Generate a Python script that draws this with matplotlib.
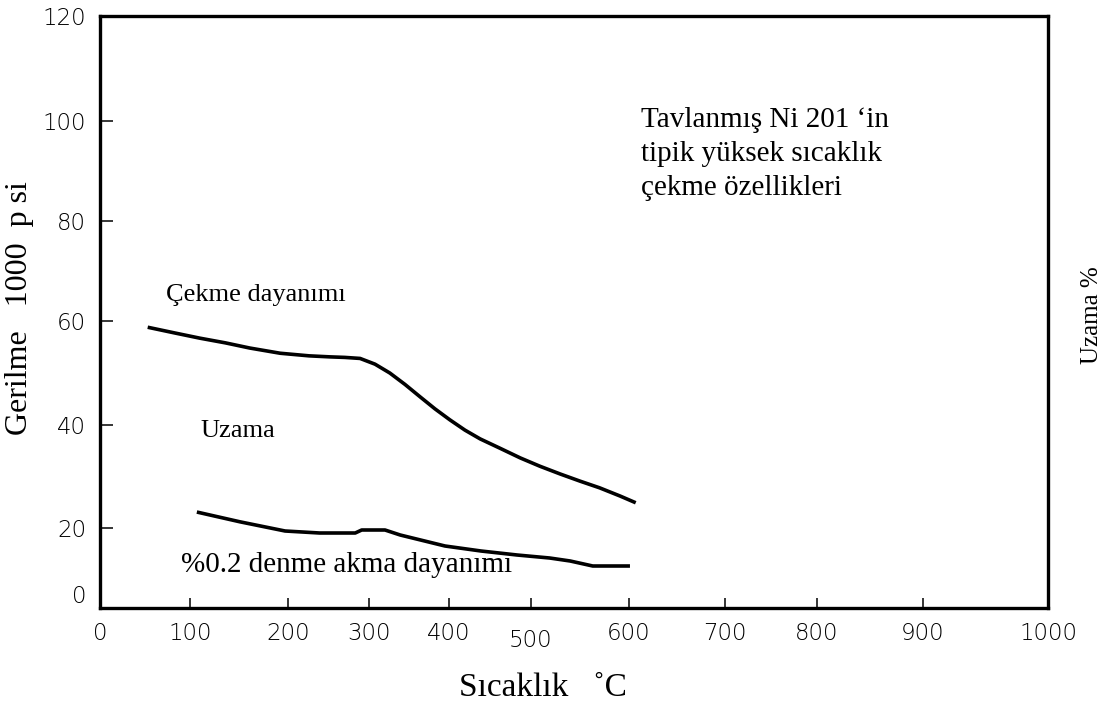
import numpy as np
import matplotlib.pyplot as plt

# Tavlanmış Ni 201 - yüksek sıcaklık çekme özellikleri
temp_ticks = [0, 100, 200, 300, 400, 500, 600, 700, 800, 900, 1000]
stress_ticks = [0, 20, 40, 60, 80, 100, 120]

# çekme dayanımı (1000 psi)
tensile_t = [53, 83, 110, 136, 161, 192, 226, 252, 270, 289, 307.5, 326, 345,
             364, 382.5, 401, 419.5, 438, 462, 487, 509, 529.6, 550, 570, 591, 607]
tensile_s = [58.8, 57.7, 56.7, 55.8, 54.8, 53.8, 53.3, 53.1, 53.0, 52.8, 51.7,
             50.0, 47.8, 45.4, 43.1, 41.0, 39.0, 37.3, 35.5, 33.6, 32.0, 30.5,
             29.1, 27.8, 26.2, 24.9]

# %0.2 akma dayanımı (1000 psi)
yield_t = [107, 151, 197, 239, 283, 291, 320, 339, 395, 439, 483, 519, 540, 563, 601]
yield_s = [23.1, 21.2, 19.25, 18.75, 18.75, 19.5, 19.5, 18.25, 15.5, 14.25, 13.25,
           12.5, 11.75, 10.5, 10.5]

# the printed axes are hand drawn: tick spacing is not uniform,
# so values go through a piecewise-linear scale built on the tick marks
x_marks = [100, 190, 288, 369, 449, 531, 629, 725, 817, 923, 1048]
y_marks = [0, 80, 183, 287, 387, 487, 592]


def piecewise(src, dst):
    src = np.asarray(src, float)
    dst = np.asarray(dst, float)

    def fwd(v):
        return np.interp(v, src, dst)

    def inv(v):
        return np.interp(v, dst, src)

    return fwd, inv


W, H = 1106, 709
fig = plt.figure(figsize=(W / 100, H / 100), dpi=100)
ax = fig.add_axes([100 / W, 1 - 608 / H, 948 / W, 592 / H])

ax.set_xscale("function", functions=piecewise(temp_ticks, x_marks))
ax.set_yscale("function", functions=piecewise(stress_ticks, y_marks))
ax.set_xlim(0, 1000)
ax.set_ylim(0, 120)
ax.set_xticks(temp_ticks)
ax.set_yticks(stress_ticks)
ax.set_xticklabels([str(t) for t in temp_ticks])
ax.set_yticklabels([str(s) for s in stress_ticks])
ax.minorticks_off()

for sp in ax.spines.values():
    sp.set_linewidth(2.4)
ax.tick_params(axis="both", direction="in", width=1.1, colors="black",
               labelsize=16.5)
ax.tick_params(axis="y", length=9.5, pad=10)
ax.tick_params(axis="x", length=7.5, pad=10)
for lab in ax.get_xticklabels() + ax.get_yticklabels():
    lab.set_fontfamily("DejaVu Sans")
    lab.set_fontweight("light")

# "0" sits just above the corner, "500" a little lower than the rest
ax.get_yticklabels()[0].set_verticalalignment("bottom")
ticks = ax.xaxis.get_major_ticks()
ticks[5].set_pad(15)

ax.plot(tensile_t, tensile_s, color="black", lw=2.6, solid_capstyle="butt")
ax.plot(yield_t, yield_s, color="black", lw=2.6, solid_capstyle="butt")

serif = "Liberation Serif"


def put(x, y, s, size=19, **kw):
    fig.text(x / W, 1 - y / H, s, fontsize=size, family=serif,
             va="baseline", **kw)


put(641, 127, "Tavlanmış Ni 201 ‘in", size=21)
put(641, 161, "tipik yüksek sıcaklık", size=21)
put(641, 195, "çekme özellikleri", size=21)
put(166, 301, "Çekme dayanımı")
put(200, 437, "Uzama")
put(181, 572, "%0.2 denme akma dayanımı", size=21)

fig.text(20 / W, 1 - 308 / H, "Gerilme   1000  p si", fontsize=23, family=serif,
         rotation=90, ha="center", va="center")
fig.text(1092 / W, 1 - 315 / H, "Uzama %", fontsize=18, family=serif,
         rotation=90, ha="center", va="center")
fig.text(543 / W, 1 - 688 / H, "Sıcaklık   ˚C", fontsize=24, family=serif,
         ha="center", va="center")

fig.savefig("out.png", dpi=100, facecolor="white")
